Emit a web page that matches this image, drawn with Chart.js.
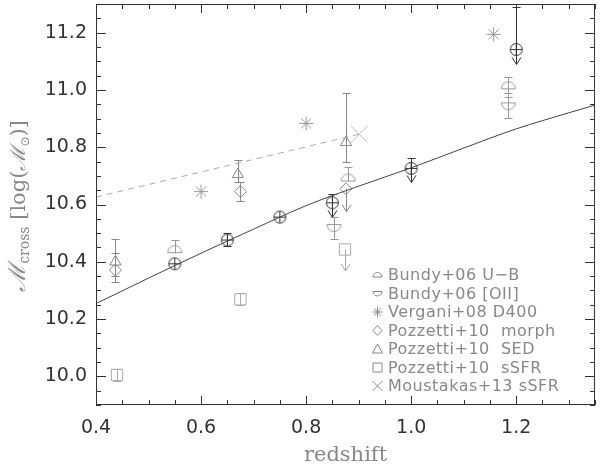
<!DOCTYPE html>
<html><head><meta charset="utf-8">
<script src="https://cdn.jsdelivr.net/npm/chart.js@4.4.0/dist/chart.umd.min.js"></script>
<style>html,body{margin:0;padding:0;background:#fff;}canvas{display:block;}</style>
</head><body>
<canvas id="c" width="600" height="466"></canvas>
<script>
// ---- data ----
const xTickVals = [0.4, 0.6, 0.8, 1.0, 1.2];
const yTickVals = [10.0, 10.2, 10.4, 10.6, 10.8, 11.0, 11.2];

const fitX = [0.4, 0.5, 0.6, 0.7, 0.8, 0.9, 1.0, 1.1, 1.2, 1.3, 1.35];
const fitY = [10.254, 10.343, 10.430, 10.514, 10.596, 10.664, 10.728, 10.797, 10.864, 10.920, 10.947];
const dashX = [0.4, 0.9];
const dashY = [10.626, 10.845];

const crossX = [0.55, 0.65, 0.75, 0.85, 1.0, 1.2];
const crossY = [10.393, 10.476, 10.556, 10.606, 10.726, 11.141];
const crossLo = [null, 10.455, null, 10.606, 10.726, 11.141];
const crossHi = [null, 10.500, null, 10.635, 10.764, 11.290];
const crossArrow = [null, null, null, 10.555, 10.677, 11.089];

const ubX = [0.55, 0.88, 1.185];
const ubY = [10.432, 10.682, 11.004];
const ubLo = [10.432, 10.682, 10.975];
const ubHi = [10.476, 10.730, 11.046];

const oiiX = [0.853, 1.185];
const oiiY = [10.530, 10.955];
const oiiLo = [10.478, 10.903];
const oiiHi = [10.555, 10.990];

const vergX = [0.60, 0.80, 1.157];
const vergY = [10.645, 10.883, 11.194];

const morphX = [0.437, 0.675, 0.876];
const morphY = [10.371, 10.645, 10.655];
const morphLo = [10.328, 10.612, null];
const morphHi = [10.430, 10.680, null];
const morphArrow = [null, null, 10.575];

const sedX = [0.437, 0.670, 0.876];
const sedY = [10.400, 10.705, 10.817];
const sedLo = [10.350, 10.680, 10.748];
const sedHi = [10.480, 10.757, 10.990];

const ssfrX = [0.440, 0.675, 0.874];
const ssfrY = [10.005, 10.269, 10.443];
const ssfrLo = [9.985, 10.250, null];
const ssfrHi = [10.025, 10.290, null];
const ssfrArrow = [null, null, 10.368];

const moustX = [0.901];
const moustY = [10.845];

const legendLabels = ['Bundy+06 U\u2212B', 'Bundy+06 [OII]', 'Vergani+08 D400',
  'Pozzetti+10  morph', 'Pozzetti+10  SED', 'Pozzetti+10  sSFR', 'Moustakas+13 sSFR'];
const legendSymbols = ['halfUp', 'halfDown', 'star', 'diamond', 'triangle', 'square', 'x'];

// ---- helpers ----
const pts = (xs, ys) => xs.map((x, i) => ({x, y: ys[i]}));
const nulls = n => new Array(n).fill(null);

function makeCanvas(w, h, draw) {
  const c = document.createElement('canvas');
  c.width = w; c.height = h;
  const g = c.getContext('2d');
  draw(g);
  return c;
}
const circlePlus = makeCanvas(15, 15, g => {
  g.strokeStyle = '#333'; g.lineWidth = 1;
  g.beginPath(); g.arc(7.5, 7.5, 6, 0, Math.PI * 2); g.stroke();
  g.beginPath(); g.moveTo(1.5, 7.5); g.lineTo(13.5, 7.5); g.moveTo(7.5, 1.5); g.lineTo(7.5, 13.5); g.stroke();
});
const halfUp = makeCanvas(17, 17, g => {
  g.strokeStyle = '#999'; g.lineWidth = 1;
  g.beginPath(); g.arc(8.5, 8.5, 7, Math.PI, 2 * Math.PI); g.closePath(); g.stroke();
});
const halfDown = makeCanvas(17, 17, g => {
  g.strokeStyle = '#999'; g.lineWidth = 1;
  g.beginPath(); g.arc(8.5, 8.5, 7, 0, Math.PI); g.closePath(); g.stroke();
});

function scatterSet(xs, ys, style, color, radius, err) {
  return {
    type: 'scatter', data: pts(xs, ys), showLine: false,
    pointStyle: style, pointRadius: radius, pointBorderColor: color,
    pointBackgroundColor: 'rgba(0,0,0,0)', pointBorderWidth: 1,
    err: err, errColor: color
  };
}

const datasets = [
  {type: 'line', data: pts(fitX, fitY), borderColor: '#444', borderWidth: 1, pointRadius: 0,
   cubicInterpolationMode: 'monotone', fill: false},
  {type: 'line', data: pts(dashX, dashY), borderColor: '#aaa', borderWidth: 1, pointRadius: 0,
   borderDash: [6, 5], fill: false},
  scatterSet(crossX, crossY, circlePlus, '#333', 7, {lo: crossLo, hi: crossHi, arrow: crossArrow}),
  scatterSet(ubX, ubY, halfUp, '#999', 8, {lo: ubLo, hi: ubHi, arrow: nulls(3)}),
  scatterSet(oiiX, oiiY, halfDown, '#999', 8, {lo: oiiLo, hi: oiiHi, arrow: nulls(2)}),
  scatterSet(vergX, vergY, 'star', '#999', 7, null),
  scatterSet(morphX, morphY, 'rectRot', '#888', 6, {lo: morphLo, hi: morphHi, arrow: morphArrow}),
  scatterSet(sedX, sedY, 'triangle', '#888', 6.5, {lo: sedLo, hi: sedHi, arrow: nulls(3)}),
  scatterSet(ssfrX, ssfrY, 'rect', '#aaa', 8, {lo: ssfrLo, hi: ssfrHi, arrow: ssfrArrow}),
  scatterSet(moustX, moustY, 'crossRot', '#bbb', 12, null)
];

// ---- plugins ----
const errorBars = {
  id: 'errorBars',
  beforeDatasetsDraw(chart) {
    const {ctx, scales: {x: xs, y: ys}} = chart;
    chart.data.datasets.forEach(ds => {
      if (!ds.err) return;
      ctx.save();
      ctx.strokeStyle = ds.errColor; ctx.lineWidth = 1;
      ds.data.forEach((p, i) => {
        const px = Math.round(xs.getPixelForValue(p.x)) + 0.5;
        const py = ys.getPixelForValue(p.y);
        const lo = ds.err.lo[i], hi = ds.err.hi[i], ar = ds.err.arrow[i];
        if (lo != null && hi != null) {
          const y1 = Math.round(ys.getPixelForValue(lo)) + 0.5;
          const y2 = Math.round(ys.getPixelForValue(hi)) + 0.5;
          ctx.beginPath();
          ctx.moveTo(px, y1); ctx.lineTo(px, y2);
          if (lo !== p.y) { ctx.moveTo(px - 4, y1); ctx.lineTo(px + 4, y1); }
          if (hi !== p.y) { ctx.moveTo(px - 4, y2); ctx.lineTo(px + 4, y2); }
          ctx.stroke();
        }
        if (ar != null) {
          const ya = ys.getPixelForValue(ar);
          ctx.beginPath();
          ctx.moveTo(px, py); ctx.lineTo(px, ya);
          ctx.moveTo(px - 4.5, ya - 7); ctx.lineTo(px, ya); ctx.lineTo(px + 4.5, ya - 7);
          ctx.stroke();
        }
      });
      ctx.restore();
    });
  }
};

function drawSym(ctx, type, x, y) {
  ctx.beginPath();
  switch (type) {
    case 'halfUp': ctx.arc(x, y + 2, 4.5, Math.PI, 2 * Math.PI); ctx.closePath(); break;
    case 'halfDown': ctx.arc(x, y - 2, 4.5, 0, Math.PI); ctx.closePath(); break;
    case 'star':
      ctx.moveTo(x - 5, y); ctx.lineTo(x + 5, y);
      ctx.moveTo(x - 3.5, y - 3.5); ctx.lineTo(x + 3.5, y + 3.5);
      ctx.moveTo(x - 3.5, y + 3.5); ctx.lineTo(x + 3.5, y - 3.5);
      ctx.moveTo(x, y - 5); ctx.lineTo(x, y + 5); break;
    case 'diamond':
      ctx.moveTo(x, y - 5); ctx.lineTo(x + 4.5, y); ctx.lineTo(x, y + 5); ctx.lineTo(x - 4.5, y); ctx.closePath(); break;
    case 'triangle':
      ctx.moveTo(x, y - 5); ctx.lineTo(x + 5, y + 4); ctx.lineTo(x - 5, y + 4); ctx.closePath(); break;
    case 'square': ctx.rect(x - 4.5, y - 4.5, 9, 9); break;
    case 'x':
      ctx.moveTo(x - 5, y - 5); ctx.lineTo(x + 5, y + 5);
      ctx.moveTo(x - 5, y + 5); ctx.lineTo(x + 5, y - 5); break;
  }
  ctx.stroke();
}

const decorations = {
  id: 'decorations',
  afterDraw(chart) {
    const {ctx, chartArea: a, scales: {x: xs, y: ys}} = chart;
    ctx.save();
    // box
    ctx.strokeStyle = '#333'; ctx.lineWidth = 1;
    ctx.strokeRect(Math.round(a.left) + 0.5, Math.round(a.top) + 0.5,
      Math.round(a.right - a.left) - 1, Math.round(a.bottom - a.top) - 1);
    // ticks (all four sides, inward)
    ctx.beginPath();
    for (let k = 0; k <= 19; k++) {
      const v = 0.4 + k * 0.05;
      const px = Math.round(xs.getPixelForValue(v)) + 0.5;
      const L = (k % 4 === 0) ? 9 : 5;
      ctx.moveTo(px, a.bottom); ctx.lineTo(px, a.bottom - L);
      ctx.moveTo(px, a.top); ctx.lineTo(px, a.top + L);
    }
    for (let k = 0; k <= 28; k++) {
      const v = 9.9 + k * 0.05;
      const py = Math.round(ys.getPixelForValue(v)) + 0.5;
      const L = ((k - 2) % 4 === 0) ? 10 : 5;
      ctx.moveTo(a.left, py); ctx.lineTo(a.left + L, py);
      ctx.moveTo(a.right, py); ctx.lineTo(a.right - L, py);
    }
    ctx.stroke();

    // legend
    ctx.strokeStyle = '#888'; ctx.fillStyle = '#888'; ctx.lineWidth = 1;
    ctx.font = '16px "DejaVu Sans"';
    ctx.textBaseline = 'middle'; ctx.textAlign = 'left';
    try { ctx.letterSpacing = '0.5px'; } catch (e) {}
    legendLabels.forEach((t, i) => {
      const yy = 275 + i * 18.5;
      drawSym(ctx, legendSymbols[i], 377.5, yy);
      ctx.fillText(t, 388, yy + 1);
    });
    try { ctx.letterSpacing = '0px'; } catch (e) {}

    // y title
    ctx.fillStyle = '#888';
    ctx.translate(25, 206);
    ctx.rotate(-Math.PI / 2);
    ctx.textBaseline = 'alphabetic';
    const parts = [
      ['\u2133', 'italic 24px "DejaVu Serif"', 0],
      ['cross', '14px "DejaVu Serif"', 4],
      [' [log(', '21px "DejaVu Serif"', 0],
      ['\u2133', 'italic 21px "DejaVu Serif"', 0],
      ['\u2299', '12px "DejaVu Sans"', 4],
      [')]', '21px "DejaVu Serif"', 0]
    ];
    let total = 0;
    parts.forEach(p => { ctx.font = p[1]; total += ctx.measureText(p[0]).width; });
    let cx = -total / 2;
    parts.forEach(p => { ctx.font = p[1]; ctx.fillText(p[0], cx, p[2]); cx += ctx.measureText(p[0]).width; });
    ctx.restore();
  }
};

const noPad = s => { s.paddingTop = 0; s.paddingBottom = 0; s.paddingLeft = 0; s.paddingRight = 0; };

new Chart(document.getElementById('c'), {
  data: {datasets},
  options: {
    responsive: false, animation: false, devicePixelRatio: 1,
    layout: {autoPadding: false, padding: {top: 4, right: 5, left: 0, bottom: 0}},
    plugins: {legend: {display: false}, tooltip: {enabled: false}},
    scales: {
      x: {
        type: 'linear', min: 0.4, max: 1.35,
        afterBuildTicks: s => { s.ticks = xTickVals.map(v => ({value: v})); },
        afterFit: s => { s.height = 61; noPad(s); },
        grid: {display: false, drawTicks: false}, border: {display: false},
        ticks: {padding: 12, color: '#333', font: {family: 'DejaVu Sans', size: 19},
          maxRotation: 0, autoSkip: false, callback: v => v.toFixed(1)},
        title: {display: true, text: 'redshift', color: '#888',
          font: {family: 'DejaVu Serif', size: 21, lineHeight: 1}, padding: 0}
      },
      y: {
        type: 'linear', min: 9.9, max: 11.3,
        afterBuildTicks: s => { s.ticks = yTickVals.map(v => ({value: v})); },
        afterFit: s => { s.width = 96; noPad(s); },
        grid: {display: false, drawTicks: false}, border: {display: false},
        ticks: {padding: 9, color: '#333', font: {family: 'DejaVu Sans', size: 19},
          autoSkip: false, callback: v => v.toFixed(1)}
      }
    }
  },
  plugins: [errorBars, decorations]
});
</script>
</body></html>
